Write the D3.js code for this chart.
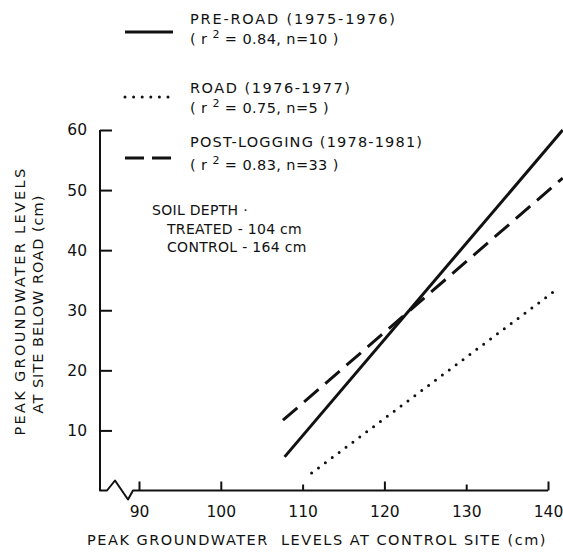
<!DOCTYPE html>
<html><head><meta charset="utf-8">
<script src="https://cdn.jsdelivr.net/npm/d3@7"></script>
<style>
html,body{margin:0;padding:0;background:#fff;}
svg text{font-family:"DejaVu Sans",sans-serif;fill:#111;}
</style></head>
<body><svg id="c" width="563" height="552"></svg>
<script>
// ---- data ----
const xTicks = [90, 100, 110, 120, 130, 140];
const yTicks = [10, 20, 30, 40, 50, 60];
const preRoadX = [107.8, 141.8];
const preRoadY = [5.6, 60];
const roadX = [111.1, 141.2];
const roadY = [2.9, 33.6];
const postLogX = [107.6, 141.8];
const postLogY = [11.7, 52];
const seriesNames = ["PRE-ROAD (1975-1976)", "ROAD (1976-1977)", "POST-LOGGING (1978-1981)"];
const seriesR2 = ["0.84", "0.75", "0.83"];
const seriesN = ["10", "5", "33"];
const soilLines = ["SOIL DEPTH ·", "TREATED - 104 cm", "CONTROL - 164 cm"];
const xTitle = "PEAK GROUNDWATER  LEVELS AT CONTROL SITE (cm)";
const yTitle = ["PEAK GROUNDWATER LEVELS", "AT SITE BELOW ROAD (cm)"];

const svg = d3.select("#c");
const x = d3.scaleLinear().domain([90, 140]).range([139, 548]);
const y = d3.scaleLinear().domain([0, 60]).range([490.5, 130]);
const xMin = x.invert(100);

// axes (ticks drawn inward)
const gy = svg.append("g").attr("transform", `translate(${x(xMin)},0)`)
  .call(d3.axisLeft(y).tickValues(yTicks).tickSize(-12).tickPadding(13).tickFormat(d3.format("d")));
gy.select(".domain").remove();
gy.selectAll(".tick line").attr("stroke", "#111").attr("stroke-width", 2);
gy.selectAll(".tick text").attr("font-size", 15.5).attr("font-family", "DejaVu Sans").attr("fill", "#111");

const gx = svg.append("g").attr("transform", `translate(0,${y(0)})`)
  .call(d3.axisBottom(x).tickValues(xTicks).tickSize(-9).tickPadding(15).tickFormat(d3.format("d")));
gx.select(".domain").remove();
gx.selectAll(".tick line").attr("stroke", "#111").attr("stroke-width", 2)
  .attr("y2", d => (d === 130 || d === 110) ? -6 : -9);
gx.selectAll(".tick text").attr("font-size", 15.5).attr("font-family", "DejaVu Sans").attr("fill", "#111");

// axis lines with break squiggle
const y0 = y(0), x0 = x(xMin);
svg.append("path")
  .attr("d", `M${x0},${y(60)}V${y0}H${x0 + 7}L${x0 + 15},${y0 - 10}L${x0 + 28},${y0 + 9}L${x0 + 33},${y0}H${x(140)}`)
  .attr("fill", "none").attr("stroke", "#111").attr("stroke-width", 2).attr("stroke-linejoin", "round");

// regression lines
const line = d3.line().x(d => x(d[0])).y(d => y(d[1]));
const styles = [
  {dash: null, width: 3, cap: "butt"},
  {dash: "0,8.6", width: 3, cap: "round"},
  {dash: "19,9", width: 3, cap: "butt"}
];
const seriesData = [
  d3.zip(preRoadX, preRoadY),
  d3.zip(roadX, roadY),
  d3.zip(postLogX, postLogY)
];
seriesData.forEach((pts, i) => {
  svg.append("path").attr("d", line(pts)).attr("fill", "none")
    .attr("stroke", "#111").attr("stroke-width", styles[i].width)
    .attr("stroke-linecap", styles[i].cap)
    .attr("stroke-dasharray", styles[i].dash);
});

// legend
const legY = [32, 97, 158];
const legT1 = [24, 93, 147];
const legT2 = [44, 113, 170];
const headLen = [205, 160, 232];
seriesNames.forEach((name, i) => {
  svg.append("path").attr("d", `M125,${legY[i]}H173`).attr("fill", "none")
    .attr("stroke", "#111").attr("stroke-width", styles[i].width)
    .attr("stroke-linecap", styles[i].cap)
    .attr("stroke-dasharray", i === 2 ? "19,8" : styles[i].dash);
  svg.append("text").attr("x", 190).attr("y", legT1[i]).attr("font-size", 14.5)
    .attr("textLength", headLen[i]).attr("lengthAdjust", "spacing").text(name);
  const t = svg.append("text").attr("x", 190).attr("y", legT2[i]).attr("font-size", 14.5).attr("letter-spacing", 0.4);
  t.append("tspan").text("( r ");
  t.append("tspan").attr("font-size", 11).attr("dy", -6).text("2");
  t.append("tspan").attr("dy", 6).text(` = ${seriesR2[i]}, n=${seriesN[i]} )`);
});

// soil depth note
const soilX = [152, 167, 167];
const soilY = [215, 234, 252];
soilLines.forEach((s, i) => {
  svg.append("text").attr("x", soilX[i]).attr("y", soilY[i]).attr("font-size", 14).attr("letter-spacing", 0.3).text(s);
});

// axis titles
svg.append("text").attr("x", 317).attr("y", 545).attr("text-anchor", "middle")
  .attr("font-size", 14.5).attr("letter-spacing", 1.5).style("white-space", "pre").text(xTitle);
const yTitleSpacing = [2.3, 1.0];
yTitle.forEach((s, i) => {
  svg.append("text").attr("transform", `translate(${25 + i * 18},${[301, 304][i]}) rotate(-90)`)
    .attr("text-anchor", "middle").attr("font-size", 14.5).attr("letter-spacing", yTitleSpacing[i]).text(s);
});
</script></body></html>
